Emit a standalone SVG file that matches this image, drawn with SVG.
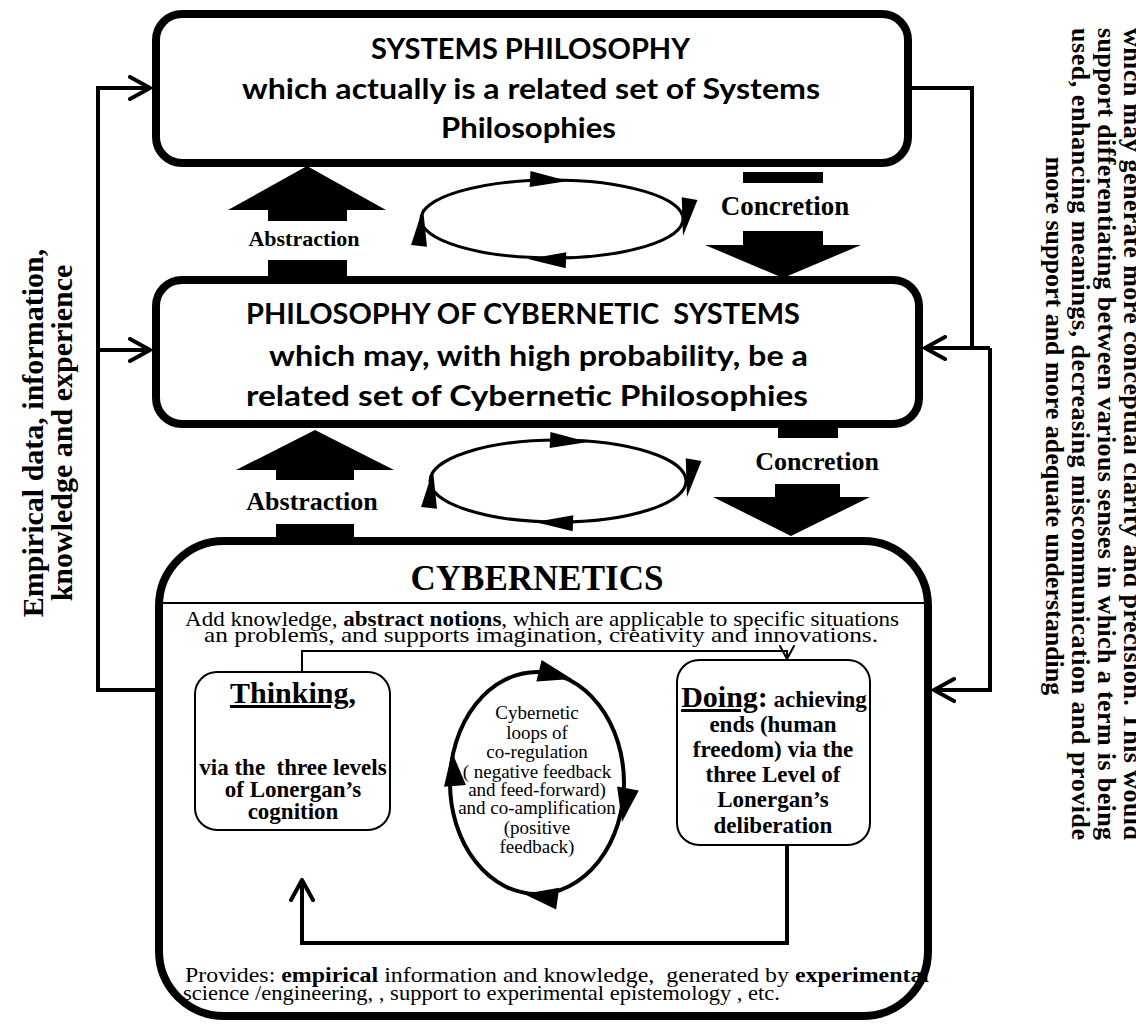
<svg xmlns="http://www.w3.org/2000/svg" xmlns:xlink="http://www.w3.org/1999/xlink" width="1136" height="1024" viewBox="0 0 1136 1024">
<defs>
<style>
.box{fill:#fff;stroke:#000;stroke-width:8}
.frame{fill:none;stroke:#000;stroke-width:8}
.ibox{fill:#fff;stroke:#000;stroke-width:2}
.conn{fill:none;stroke:#000;stroke-width:4}
.thin{fill:none;stroke:#000;stroke-width:2}
.loop{fill:none;stroke:#000;stroke-width:3}
.blk{fill:#000;stroke:none}
.cal{font-family:Lato,"Open Sans","Noto Sans",sans-serif;font-weight:700;font-size:28px;fill:#000}
.tb{font-family:"Liberation Serif","Times New Roman",serif;font-weight:700;fill:#000}
.tr{font-family:"Liberation Serif","Times New Roman",serif;font-weight:400;fill:#000}
</style>
<marker id="arr" markerUnits="userSpaceOnUse" viewBox="0 0 24 26" refX="22" refY="13" markerWidth="24" markerHeight="26" orient="auto">
<path d="M2,2 L22,13 L2,24" fill="none" stroke="#000" stroke-width="4" stroke-linecap="round" stroke-linejoin="round"/>
</marker>
<marker id="arrS" markerUnits="userSpaceOnUse" viewBox="0 0 16 16" refX="14" refY="8" markerWidth="16" markerHeight="16" orient="auto">
<path d="M1,1 L14,8 L1,15" fill="none" stroke="#000" stroke-width="2" stroke-linecap="round"/>
</marker>
<path id="tri" d="M0,0 L-34,-11 L-34,11 Z"/>
<path id="tri2" d="M0,0 L-38,-8 L-38,8 Z"/>
</defs>

<rect width="1136" height="1024" fill="#fff"/>

<!-- side texts -->
<g id="left-label" class="tb" font-size="30" text-anchor="middle">
<text transform="translate(43,433) rotate(-90)">Empirical data, information,</text>
<text transform="translate(72,433) rotate(-90)">knowledge and experience</text>
</g>
<g id="right-label" class="tb" font-size="26" text-anchor="middle">
<text transform="translate(1124,434) rotate(90)" textLength="812" lengthAdjust="spacing">which may generate more conceptual clarity and precision. This would</text>
<text transform="translate(1098,434) rotate(90)" textLength="812" lengthAdjust="spacing">support differentiating between various senses in which a term is being</text>
<text transform="translate(1072,434) rotate(90)" textLength="812" lengthAdjust="spacing">used, enhancing meanings, decreasing miscommunication and provide</text>
<text transform="translate(1046,426) rotate(90)">more support and more adequate understanding</text>
</g>

<!-- cybernetics box (background and its own texts) -->
<g id="cybernetics">
<rect x="159" y="541" width="769" height="475" rx="65" fill="#fff"/>
<text class="tb" x="537" y="590" font-size="35" text-anchor="middle">CYBERNETICS</text>
<line class="thin" x1="161" y1="603" x2="926" y2="603"/>
<text class="tr" x="185" y="626" font-size="21" textLength="714" lengthAdjust="spacingAndGlyphs">Add knowledge, <tspan font-weight="700">abstract notions</tspan>, which are applicable to specific situations</text>
<text class="tr" x="204" y="642" font-size="21" textLength="674" lengthAdjust="spacingAndGlyphs">an problems, and supports imagination, creativity and innovations.</text>
<text class="tr" x="185" y="982" font-size="22" textLength="744" lengthAdjust="spacingAndGlyphs" xml:space="preserve">Provides: <tspan font-weight="700">empirical</tspan> information and knowledge,  generated by <tspan font-weight="700">experimental</tspan></text>
<text class="tr" x="183" y="1000" font-size="22" textLength="597" lengthAdjust="spacingAndGlyphs">science /engineering, , support to experimental epistemology , etc.</text>
<rect class="frame" x="159" y="541" width="769" height="475" rx="65"/>
</g>

<!-- connectors -->
<g id="connectors">
<path class="conn" d="M155,690 H98 V88 H150" marker-end="url(#arr)"/>
<path class="conn" d="M98,350 H150" marker-end="url(#arr)"/>
<path class="conn" d="M908,88 H972 V348"/>
<path class="conn" d="M990,348 H925" marker-end="url(#arr)"/>
<path class="conn" d="M990,348 V690 H934" marker-end="url(#arr)"/>
<path class="thin" d="M302,672 V651 H787 V659" marker-end="url(#arrS)"/>
<path class="conn" d="M787,845 V943 H302 V880" marker-end="url(#arr)"/>
</g>

<!-- abstraction / concretion arrows level 1 -->
<g id="abstraction-1">
<polygon class="blk" points="307,166 386,210 347,210 347,221 268,221 268,210 228,210"/>
<rect class="blk" x="268" y="260" width="79" height="20"/>
<text class="tb" x="304" y="246" font-size="22" text-anchor="middle">Abstraction</text>
</g>
<g id="concretion-1">
<rect class="blk" x="743" y="172" width="80" height="11"/>
<text class="tb" x="785" y="215" font-size="27" text-anchor="middle">Concretion</text>
<polygon class="blk" points="743,231 823,231 823,245 861,245 783,278 705,245 743,245"/>
</g>
<g id="loop-1">
<ellipse class="loop" cx="552" cy="219" rx="131" ry="39"/>
<use xlink:href="#tri2" transform="translate(568,181) rotate(3)"/>
<use xlink:href="#tri2" transform="translate(683,236) rotate(100)"/>
<use xlink:href="#tri2" transform="translate(528,259) rotate(182)"/>
<use xlink:href="#tri2" transform="translate(423,208) rotate(-84)"/>
</g>

<!-- level 2 -->
<g id="abstraction-2">
<polygon class="blk" points="315,430 394,470 354,470 354,480 276,480 276,470 236,470"/>
<rect class="blk" x="276" y="524" width="78" height="17"/>
<text class="tb" x="312" y="510" font-size="26" text-anchor="middle">Abstraction</text>
</g>
<g id="concretion-2">
<rect class="blk" x="778" y="426" width="60" height="12"/>
<text class="tb" x="817" y="470" font-size="26" text-anchor="middle">Concretion</text>
<polygon class="blk" points="775,484 840,484 840,497 870,497 791,536 713,497 775,497"/>
</g>
<g id="loop-2">
<ellipse class="loop" cx="558" cy="481" rx="128" ry="41"/>
<use xlink:href="#tri2" transform="translate(588,442) rotate(3)"/>
<use xlink:href="#tri2" transform="translate(687,497) rotate(100)"/>
<use xlink:href="#tri2" transform="translate(535,522) rotate(182)"/>
<use xlink:href="#tri2" transform="translate(433,470) rotate(-84)"/>
</g>

<!-- top box -->
<g id="systems-philosophy">
<rect class="box" x="156" y="14" width="752" height="149" rx="26"/>
<text class="cal" x="371" y="59" textLength="319" lengthAdjust="spacingAndGlyphs">SYSTEMS PHILOSOPHY</text>
<text class="cal" x="242" y="99" textLength="578" lengthAdjust="spacingAndGlyphs">which actually is a related set of Systems</text>
<text class="cal" x="441" y="138" textLength="175" lengthAdjust="spacingAndGlyphs">Philosophies</text>
</g>

<!-- middle box -->
<g id="philosophy-cybernetic">
<rect class="box" x="156" y="280" width="763" height="144" rx="26"/>
<text class="cal" x="246" y="324" textLength="554" lengthAdjust="spacingAndGlyphs" xml:space="preserve">PHILOSOPHY OF CYBERNETIC  SYSTEMS</text>
<text class="cal" x="269" y="366" textLength="539" lengthAdjust="spacingAndGlyphs">which may, with high probability, be a</text>
<text class="cal" x="246" y="406" textLength="562" lengthAdjust="spacingAndGlyphs">related set of Cybernetic Philosophies</text>
</g>

<g id="thinking">
<rect class="ibox" x="195" y="672" width="195" height="158" rx="22"/>
<text class="tb" x="293" y="703" font-size="30" text-anchor="middle"><tspan text-decoration="underline">Thinking</tspan>,</text>
<text class="tb" x="293" y="775" font-size="23" text-anchor="middle" xml:space="preserve">via the  three levels</text>
<text class="tb" x="293" y="797" font-size="23" text-anchor="middle">of Lonergan’s</text>
<text class="tb" x="293" y="819" font-size="23" text-anchor="middle">cognition</text>
</g>

<g id="doing">
<rect class="ibox" x="677" y="660" width="193" height="185" rx="22"/>
<text class="tb" x="774" y="707" text-anchor="middle"><tspan font-size="30" text-decoration="underline">Doing</tspan><tspan font-size="30">:</tspan><tspan font-size="23"> achieving</tspan></text>
<text class="tb" x="773" y="732" font-size="23" text-anchor="middle">ends (human</text>
<text class="tb" x="773" y="757" font-size="23" text-anchor="middle">freedom) via the</text>
<text class="tb" x="773" y="782" font-size="23" text-anchor="middle">three Level of</text>
<text class="tb" x="773" y="807" font-size="23" text-anchor="middle">Lonergan’s</text>
<text class="tb" x="773" y="833" font-size="23" text-anchor="middle">deliberation</text>
</g>

<g id="cyber-loop">
<ellipse cx="537" cy="783" rx="87" ry="111" fill="#fff" stroke="#000" stroke-width="4"/>
<use xlink:href="#tri" transform="translate(572,679) rotate(14)"/>
<use xlink:href="#tri" transform="translate(622,822) rotate(100)"/>
<use xlink:href="#tri" transform="translate(524,894) rotate(188)"/>
<use xlink:href="#tri" transform="translate(452,752) rotate(-95)"/>
<g class="tr" font-size="19" text-anchor="middle">
<text x="537" y="719">Cybernetic</text>
<text x="537" y="739">loops of</text>
<text x="537" y="758">co-regulation</text>
<text x="537" y="778">( negative feedback</text>
<text x="537" y="796">and feed-forward)</text>
<text x="537" y="814">and co-amplification</text>
<text x="537" y="834">(positive</text>
<text x="537" y="853">feedback)</text>
</g>
</g>
</svg>
